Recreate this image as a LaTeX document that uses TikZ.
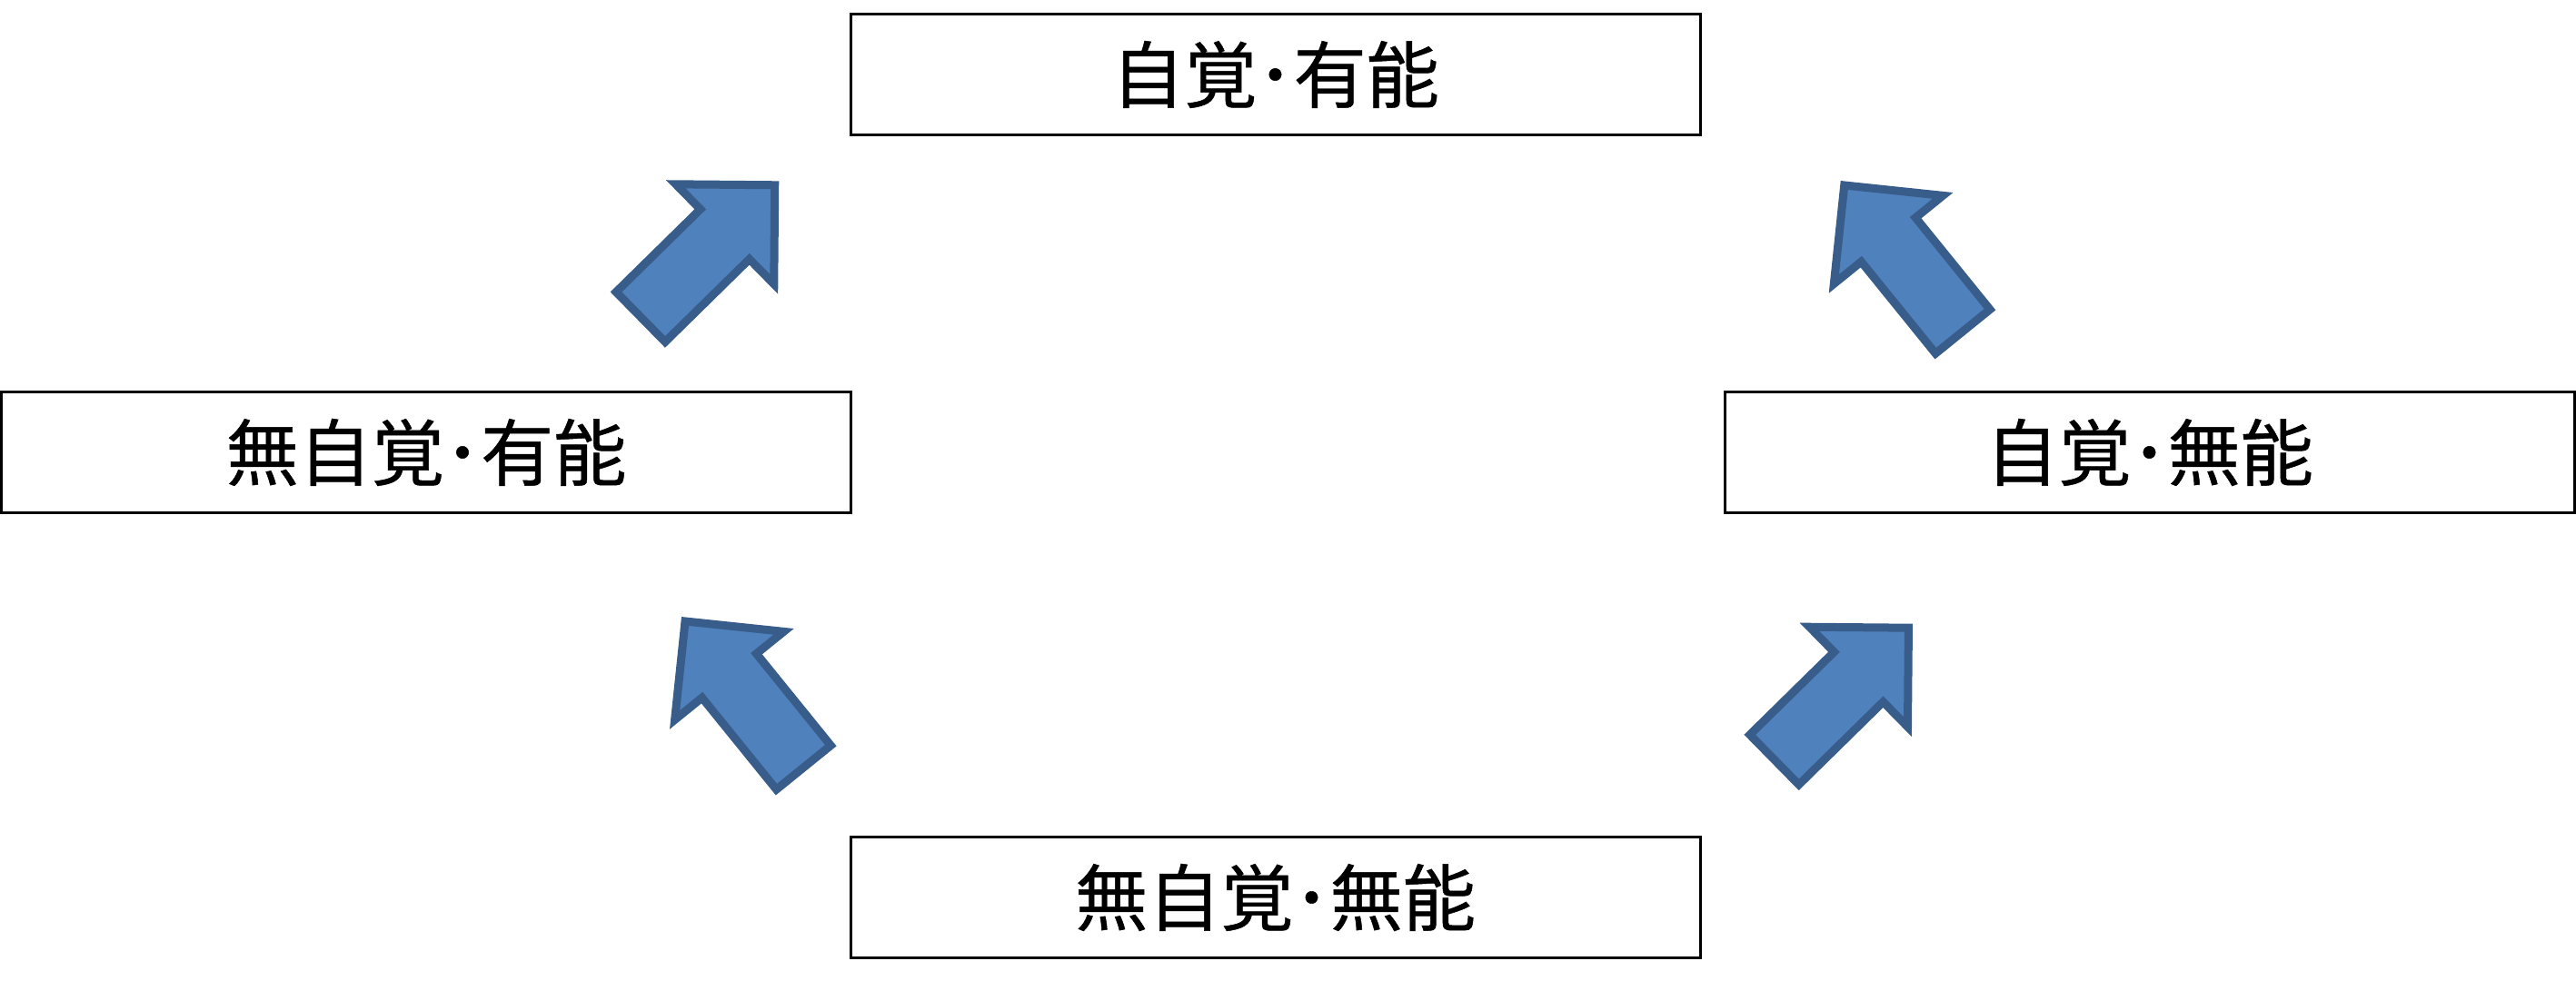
\documentclass[tikz,border=0pt]{standalone}
\usepackage{fontspec}
\setmainfont{Noto Sans CJK JP}
\newfontfamily\stagefont{Noto Sans CJK JP}[FakeBold=0.6]
\usepackage{xcolor}
\definecolor{arrowfill}{HTML}{4F81BD}
\definecolor{arrowline}{HTML}{385D8A}
\def\boxwidth{9.35cm}
\def\boxheight{1.326cm}
\def\arrowpath{(-0.064,0) -- (-0.835,0.771) -- (-0.835,0.385) -- (-2.135,0.385) -- (-2.135,-0.385) -- (-0.835,-0.385) -- (-0.835,-0.771) -- cycle}

\begin{document}
\begin{tikzpicture}
    \tikzstyle{stage}=[rectangle, draw=black, line width=0.03cm, fill=white, minimum width=\boxwidth, minimum height=\boxheight, inner sep=0pt, font=\stagefont\fontsize{22.8pt}{27pt}\selectfont]
    \tikzstyle{blockarrow}=[draw=arrowline, fill=arrowfill, line width=0.09cm, line join=miter]

    \useasboundingbox (0,0) rectangle (28.35,-10.8);

	\node[stage] (S-0) at (14.035,-9.88) {無自覚･無能};
	\node[stage] (S-1) at (23.655,-4.98) {自覚･無能};
	\node[stage] (S-2) at (4.69,-4.98) {無自覚･有能};
	\node[stage] (S-3) at (14.035,-0.82) {自覚･有能};

%	arrows: tip position / angle
	\foreach \x/\y/\a in {8.573/-1.993/44.5, 20.257/-1.99/129, 7.50/-6.79/129, 21.05/-6.867/44.5}{
		\draw[blockarrow, shift={(\x,\y)}, rotate=\a] \arrowpath;
	}
\end{tikzpicture}
\end{document}
